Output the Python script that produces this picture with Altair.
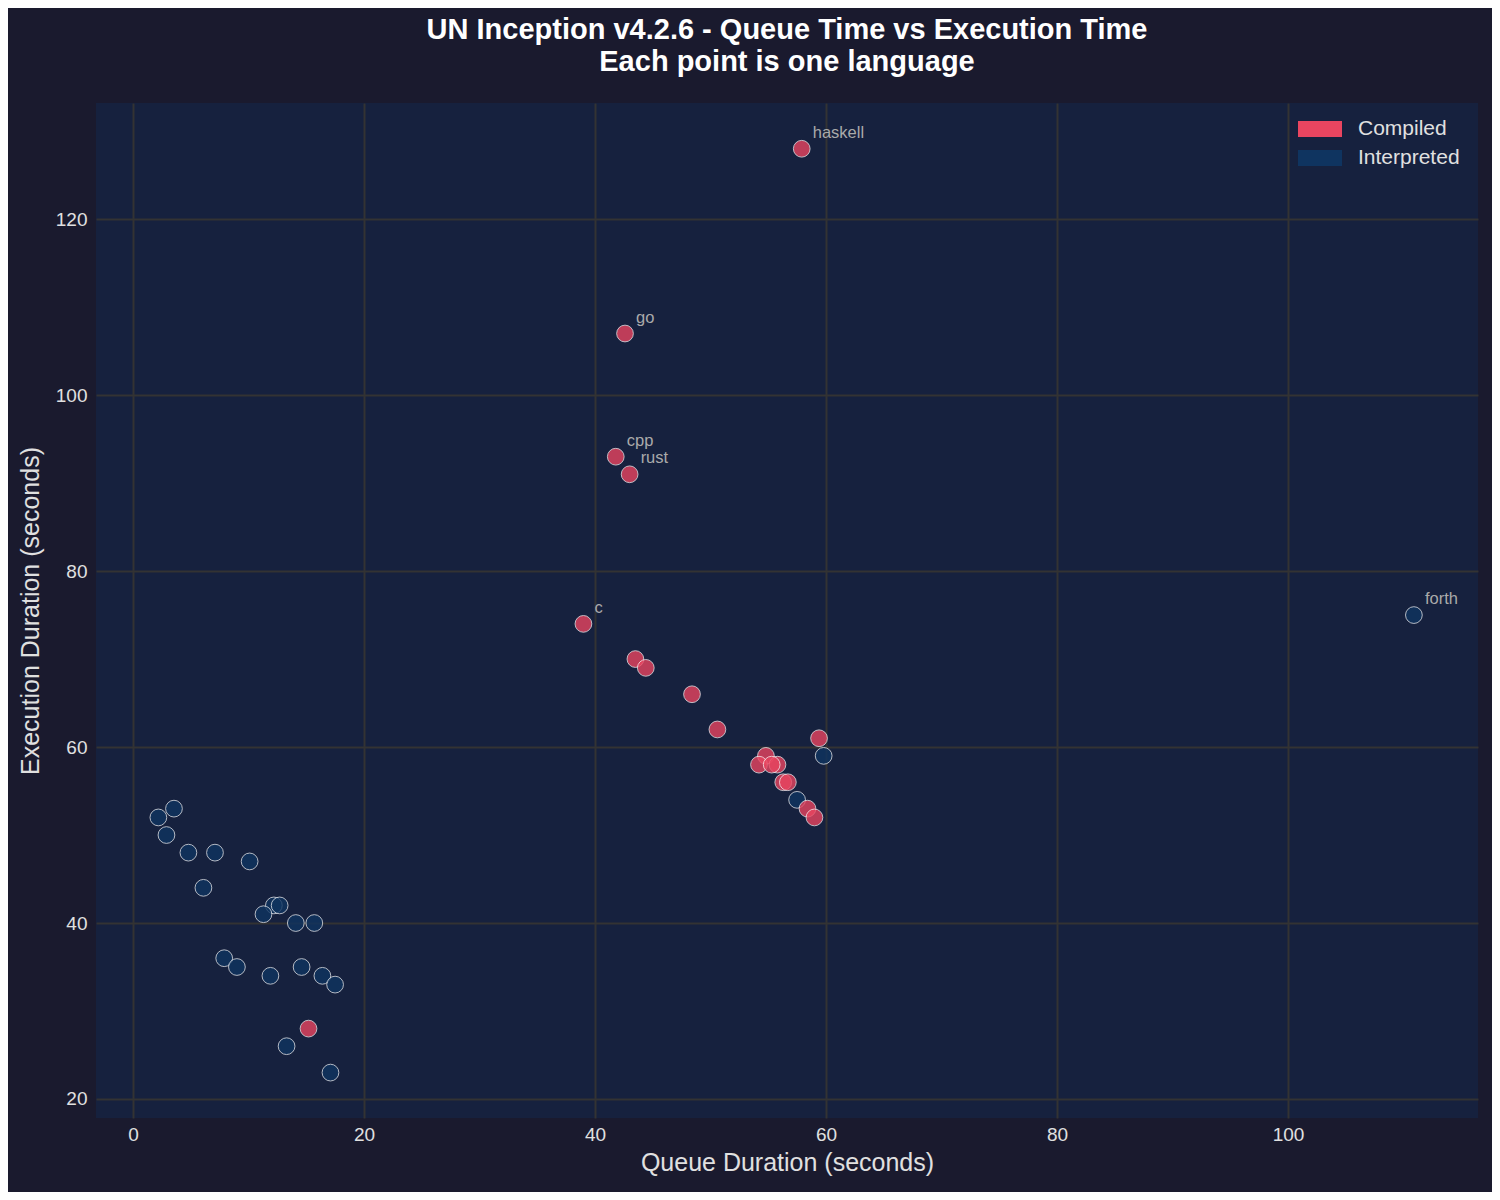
import altair as alt
import pandas as pd

# Compiled languages (red)
comp_x = [57.9, 42.6, 41.8, 43.0, 39.0, 43.5, 44.4, 48.4, 50.6, 59.4, 54.8, 55.8, 54.2, 55.3, 56.3, 56.7, 58.4, 59.0, 15.2]
comp_y = [128, 107, 93, 91, 74, 70, 69, 66, 62, 61, 59, 58, 58, 58, 56, 56, 53, 52, 28]
comp_names = ["haskell", "go", "cpp", "rust", "c", "", "", "", "", "", "", "", "", "", "", "", "", "", ""]

# Interpreted languages (blue)
interp_x = [110.9, 59.8, 57.5, 3.55, 2.2, 2.9, 4.8, 7.1, 10.1, 6.1, 12.2, 12.7, 11.3, 14.1, 15.7,
            7.9, 9.0, 11.9, 14.6, 16.4, 17.5, 13.3, 17.1]
interp_y = [75, 59, 54, 53, 52, 50, 48, 48, 47, 44, 42, 42, 41, 40, 40,
            36, 35, 34, 35, 34, 33, 26, 23]
interp_names = ["forth"] + [""] * 22

categories = ["Compiled", "Interpreted"]
colors = ["#e94560", "#0f3460"]

rows = []
for x, y, n in zip(interp_x, interp_y, interp_names):
    rows.append({"q": x, "e": y, "name": n, "type": "Interpreted"})
for x, y, n in zip(comp_x, comp_y, comp_names):
    rows.append({"q": x, "e": y, "name": n, "type": "Compiled"})
df = pd.DataFrame(rows)
labels_df = df[df["name"] != ""]

FONT = "Liberation Sans"

xscale = alt.Scale(domain=[-3.2, 116.45], nice=False, zero=False)
yscale = alt.Scale(domain=[17.84, 133.2], nice=False, zero=False)

points = alt.Chart(df).mark_circle(
    size=280, opacity=0.8, stroke="white", strokeWidth=1, strokeOpacity=0.85
).encode(
    x=alt.X("q:Q", scale=xscale, title="Queue Duration (seconds)",
            axis=alt.Axis(values=[0, 20, 40, 60, 80, 100], labelPadding=7, titlePadding=6)),
    y=alt.Y("e:Q", scale=yscale, title="Execution Duration (seconds)",
            axis=alt.Axis(values=[20, 40, 60, 80, 100, 120], labelPadding=9, titlePadding=12)),
    color=alt.Color("type:N", scale=alt.Scale(domain=categories, range=colors),
                    legend=alt.Legend(title=None, orient="none", legendX=1207, legendY=9,
                                      symbolType="M-2,-0.727L2,-0.727L2,0.727L-2,0.727Z",
                                      symbolSize=484, symbolStrokeWidth=0, symbolOpacity=1,
                                      labelFontSize=21, labelColor="#e0e0e0",
                                      labelFont=FONT, rowPadding=8,
                                      symbolOffset=0, labelOffset=27,
                                      padding=6)),
)

labels = alt.Chart(labels_df).mark_text(
    align="left", baseline="bottom", dx=11, dy=-8, fontSize=16.5, color="#aaaaaa",
    font=FONT
).encode(
    x=alt.X("q:Q", scale=xscale),
    y=alt.Y("e:Q", scale=yscale),
    text="name:N",
)

chart = alt.layer(points, labels).properties(
    width=1382,
    height=1015,
    background="#1a1a2e",
    padding={"left": 88, "top": 95, "right": 14, "bottom": 74},
    autosize=alt.AutoSizeParams(type="none"),
    title=alt.TitleParams(
        text=["UN Inception v4.2.6 - Queue Time vs Execution Time", "Each point is one language"],
        fontSize=29, fontWeight="bold", color="white", font=FONT,
        anchor="middle", lineHeight=32, offset=26,
    ),
).configure_view(
    fill="#16213e", stroke=None
).configure_axis(
    gridColor="#333333", gridWidth=2, gridOpacity=1, domain=False, ticks=False,
    labelColor="#e0e0e0", labelFontSize=19, labelFont=FONT,
    titleColor="#e0e0e0", titleFontSize=25, titleFont=FONT, titleFontWeight="normal",
)

chart.save("out.html", embed_options={"renderer": "svg", "actions": False})
